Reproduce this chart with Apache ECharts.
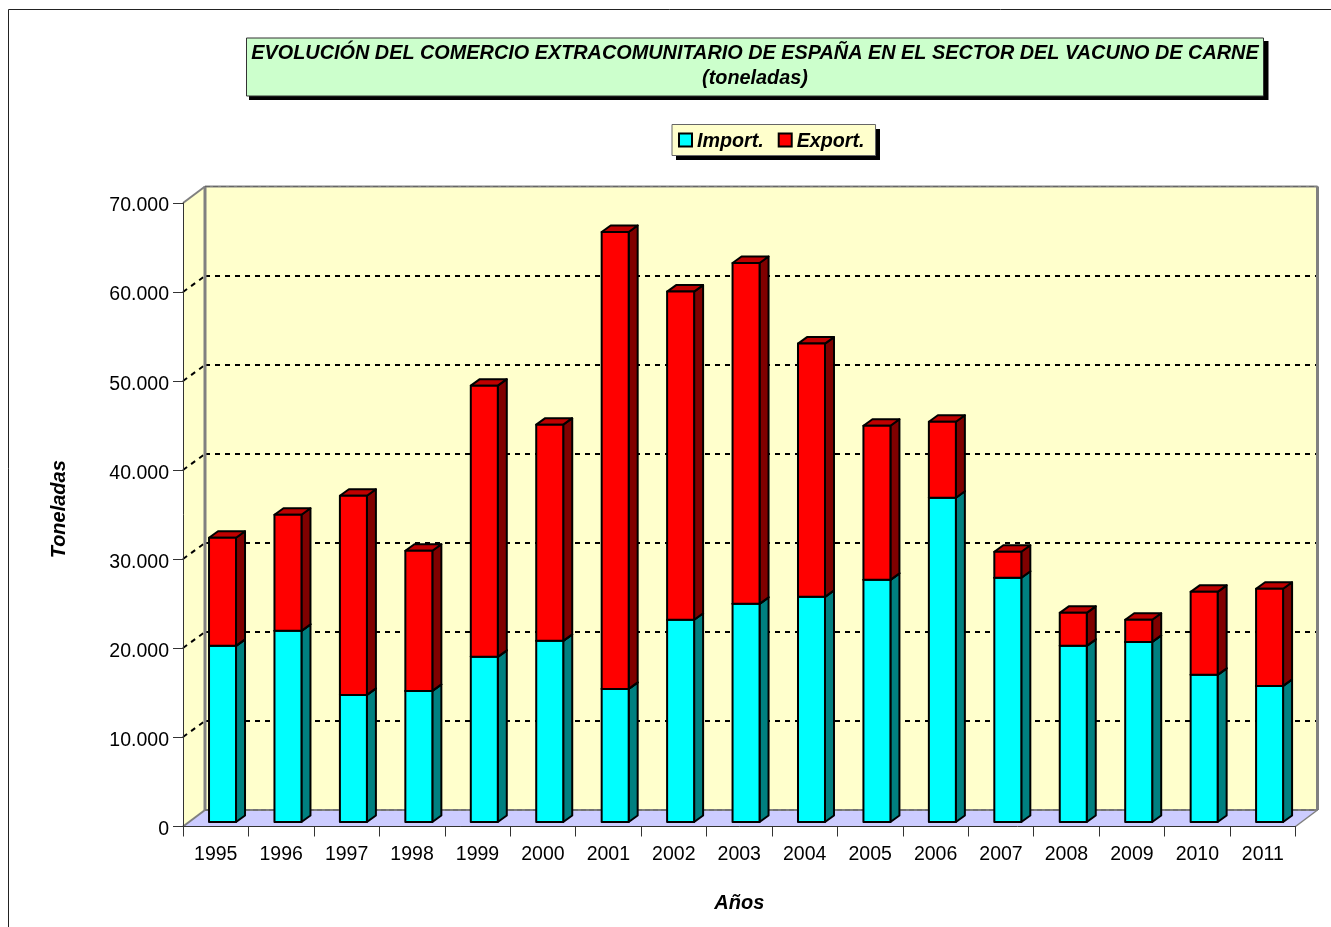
<!DOCTYPE html>
<html>
<head>
<meta charset="utf-8">
<style>
html, body { margin: 0; padding: 0; background: #fff; }
#chart { width: 1331px; height: 927px; }
</style>
<script src="https://cdn.jsdelivr.net/npm/echarts@6/dist/echarts.min.js"></script>
</head>
<body>
<div id="chart"></div>
<script>
var years = ["1995", "1996", "1997", "1998", "1999", "2000", "2001", "2002", "2003",
             "2004", "2005", "2006", "2007", "2008", "2009", "2010", "2011"];
var importValues = [19780, 21460, 14270, 14720, 18540, 20340, 14940, 22700, 24490,
                    25280, 27190, 36400, 27420, 19780, 20220, 16520, 15280];
var exportValues = [12130, 13030, 22360, 15730, 30450, 24270, 51300, 36850, 38270,
                    28430, 17300, 8540, 2920, 3700, 2480, 9320, 10900];
var yTicks = [10000, 20000, 30000, 40000, 50000, 60000];

var FONT = '"Liberation Sans", Arial, sans-serif';
var WALL_DX = 22, WALL_DY = -16.5;   // depth of the 3D box
var BAR_DX = 9, BAR_DY = -6.5;       // depth of each bar
var BAR_SHIFT_X = 6.8, BAR_SHIFT_Y = -4.5; // bars stand inside the floor
var BAR_RATIO = 0.4126;

function line(x1, y1, x2, y2, style) {
    return { type: "line", shape: { x1: x1, y1: y1, x2: x2, y2: y2 }, style: style, silent: true };
}
function poly(points, fill) {
    return { type: "polygon", shape: { points: points }, style: { fill: fill, stroke: null }, silent: true };
}

// walls, floor and dotted grid of the 3D box
function renderWalls(params, api) {
    var g = params.coordSys;
    var x0 = g.x, x1 = g.x + g.width, top = g.y, bot = g.y + g.height;
    var bx0 = x0 + WALL_DX, bx1 = x1 + WALL_DX;
    var edge = { stroke: "#808080", lineWidth: 2 };
    var dots = { stroke: "#000", lineWidth: 2, lineDash: [5, 5] };
    var kids = [
        poly([[x0, top], [bx0, top + WALL_DY], [bx0, bot + WALL_DY], [x0, bot]], "#FFFFCC"),
        poly([[bx0, top + WALL_DY], [bx1, top + WALL_DY], [bx1, bot + WALL_DY], [bx0, bot + WALL_DY]], "#FFFFCC"),
        poly([[x0, bot], [bx0, bot + WALL_DY], [bx1, bot + WALL_DY], [x1, bot]], "#CCCCFF")
    ];
    yTicks.forEach(function (v) {
        var y = Math.round(api.coord([0, v])[1]);
        kids.push(line(x0, y, bx0, Math.round(y + WALL_DY), dots));
        kids.push(line(bx0, Math.round(y + WALL_DY), bx1, Math.round(y + WALL_DY), dots));
    });
    kids.push(line(x0, top, bx0, top + WALL_DY, edge));
    kids.push(line(x0, bot, bx0, bot + WALL_DY, edge));
    kids.push(line(x1, bot, bx1, bot + WALL_DY, { stroke: "#808080", lineWidth: 1.5 }));
    kids.push(line(bx0, top + WALL_DY, bx0, bot + WALL_DY, { stroke: "#808080", lineWidth: 3 }));
    kids.push(line(bx1, top + WALL_DY, bx1, bot + WALL_DY, { stroke: "#808080", lineWidth: 3 }));
    kids.push(line(bx0, top + WALL_DY, bx1, top + WALL_DY, edge));
    kids.push(line(bx0, bot + WALL_DY, bx1, bot + WALL_DY, edge));
    kids.push(line(bx0, top + WALL_DY, bx1, top + WALL_DY, { stroke: "#666", lineWidth: 1, lineDash: [5, 3] }));
    kids.push(line(bx0, bot + WALL_DY, bx1, bot + WALL_DY, { stroke: "#666", lineWidth: 1, lineDash: [5, 3] }));
    return { type: "group", children: kids };
}

// one stacked 3D bar segment: front, top and side faces
function makeBar(front, top, side) {
    return function (params, api) {
        var idx = api.value(0);
        var low = api.coord([idx, api.value(1)]);
        var high = api.coord([idx, api.value(2)]);
        var w = api.size([1, 0])[0] * BAR_RATIO;
        var x = low[0] - w / 2 + BAR_SHIFT_X, xr = x + w;
        var y0 = low[1] + BAR_SHIFT_Y, y1 = high[1] + BAR_SHIFT_Y;
        var outline = { stroke: "#000", lineWidth: 2, lineJoin: "round" };
        return {
            type: "group",
            children: [
                { type: "polygon", shape: { points: [[xr, y0], [xr + BAR_DX, y0 + BAR_DY], [xr + BAR_DX, y1 + BAR_DY], [xr, y1]] },
                  style: Object.assign({ fill: side }, outline) },
                { type: "polygon", shape: { points: [[x, y1], [x + BAR_DX, y1 + BAR_DY], [xr + BAR_DX, y1 + BAR_DY], [xr, y1]] },
                  style: Object.assign({ fill: top }, outline) },
                { type: "rect", shape: { x: x, y: y1, width: w, height: y0 - y1 },
                  style: Object.assign({ fill: front }, outline) }
            ]
        };
    };
}

var importData = [], exportData = [];
for (var i = 0; i < years.length; i++) {
    importData.push([i, 0, importValues[i]]);
    exportData.push([i, importValues[i], importValues[i] + exportValues[i]]);
}

var option = {
    animation: false,
    backgroundColor: "#fff",
    title: {
        text: "EVOLUCIÓN DEL COMERCIO EXTRACOMUNITARIO DE ESPAÑA EN EL SECTOR DEL VACUNO DE CARNE\n(toneladas)",
        left: 749.5,
        top: 37.5,
        padding: [4, 5.5, 5, 5.5],
        textAlign: "center",
        backgroundColor: "#CCFFCC",
        borderColor: "#333",
        borderWidth: 1,
        textStyle: {
            fontFamily: FONT, fontSize: 19.85, fontWeight: "bold", fontStyle: "italic",
            color: "#000", lineHeight: 25
        }
    },
    legend: {
        data: ["Import.", "Export."],
        left: 672,
        top: 124.5,
        icon: "rect",
        itemWidth: 13,
        itemHeight: 13,
        itemGap: 14,
        padding: [3.5, 11, 3.5, 6],
        backgroundColor: "#FFFFCC",
        borderColor: "#666",
        borderWidth: 1,
        formatter: "{t|{name}}",
        textStyle: {
            rich: {
                t: {
                    fontFamily: FONT, fontSize: 19.7, fontWeight: "bold", fontStyle: "italic",
                    color: "#000", verticalAlign: "top", lineHeight: 24, padding: [4, 0, 0, 0]
                }
            }
        }
    },
    grid: { left: 183, top: 203, width: 1112.5, height: 623.5, containLabel: false },
    xAxis: {
        type: "category",
        data: years,
        z: 10,
        name: "Años",
        nameLocation: "middle",
        nameGap: 67,
        nameTextStyle: { fontFamily: FONT, fontSize: 20, fontWeight: "bold", fontStyle: "italic", color: "#000" },
        axisLine: { onZero: false, lineStyle: { color: "#333", width: 1 } },
        axisTick: { show: true, alignWithLabel: false, length: 10, lineStyle: { color: "#333", width: 1 } },
        axisLabel: { fontFamily: FONT, fontSize: 19.5, color: "#000", margin: 18, interval: 0 },
        splitLine: { show: false }
    },
    yAxis: {
        type: "value",
        min: 0,
        max: 70000,
        interval: 10000,
        z: 10,
        name: "Toneladas",
        nameLocation: "middle",
        nameGap: 114,
        nameTextStyle: { fontFamily: FONT, fontSize: 20, fontWeight: "bold", fontStyle: "italic", color: "#000", padding: [0, 0, 0, 11] },
        axisLine: { show: true, lineStyle: { color: "#333", width: 1 } },
        axisTick: { show: true, length: 10, lineStyle: { color: "#333", width: 1 } },
        axisLabel: {
            fontFamily: FONT, fontSize: 19.5, color: "#000", margin: 14, verticalAlign: "top", lineHeight: 6,
            formatter: function (v) { return String(v).replace(/\B(?=(\d{3})+$)/g, "."); }
        },
        splitLine: { show: false }
    },
    graphic: [
        // page frame and the hard drop shadows of the title and legend boxes
        { type: "polyline", shape: { points: [[8.5, 927], [8.5, 9.5], [1331, 9.5]] },
          style: { fill: null, stroke: "#222", lineWidth: 1 }, silent: true },
        { type: "rect", shape: { x: 249, y: 41, width: 1019.5, height: 59 }, style: { fill: "#000" }, silent: true },
        { type: "rect", shape: { x: 676, y: 129, width: 204, height: 31 }, style: { fill: "#000" }, silent: true }
    ],
    series: [
        {
            name: "walls", type: "custom", coordinateSystem: "cartesian2d", z: 1, silent: true,
            renderItem: renderWalls, data: [[0, 0]], encode: { x: 0, y: 1 }
        },
        {
            name: "Import.", type: "custom", coordinateSystem: "cartesian2d", z: 2,
            renderItem: makeBar("#00FFFF", "#00C0C0", "#008080"),
            itemStyle: { color: "#00FFFF", borderColor: "#000", borderWidth: 2 },
            encode: { x: 0, y: [1, 2] },
            data: importData
        },
        {
            name: "Export.", type: "custom", coordinateSystem: "cartesian2d", z: 3,
            renderItem: makeBar("#FF0000", "#C00000", "#800000"),
            itemStyle: { color: "#FF0000", borderColor: "#000", borderWidth: 2 },
            encode: { x: 0, y: [1, 2] },
            data: exportData
        }
    ]
};

var myChart = echarts.init(document.getElementById("chart"), null, { renderer: "canvas" });
myChart.setOption(option);
</script>
</body>
</html>
